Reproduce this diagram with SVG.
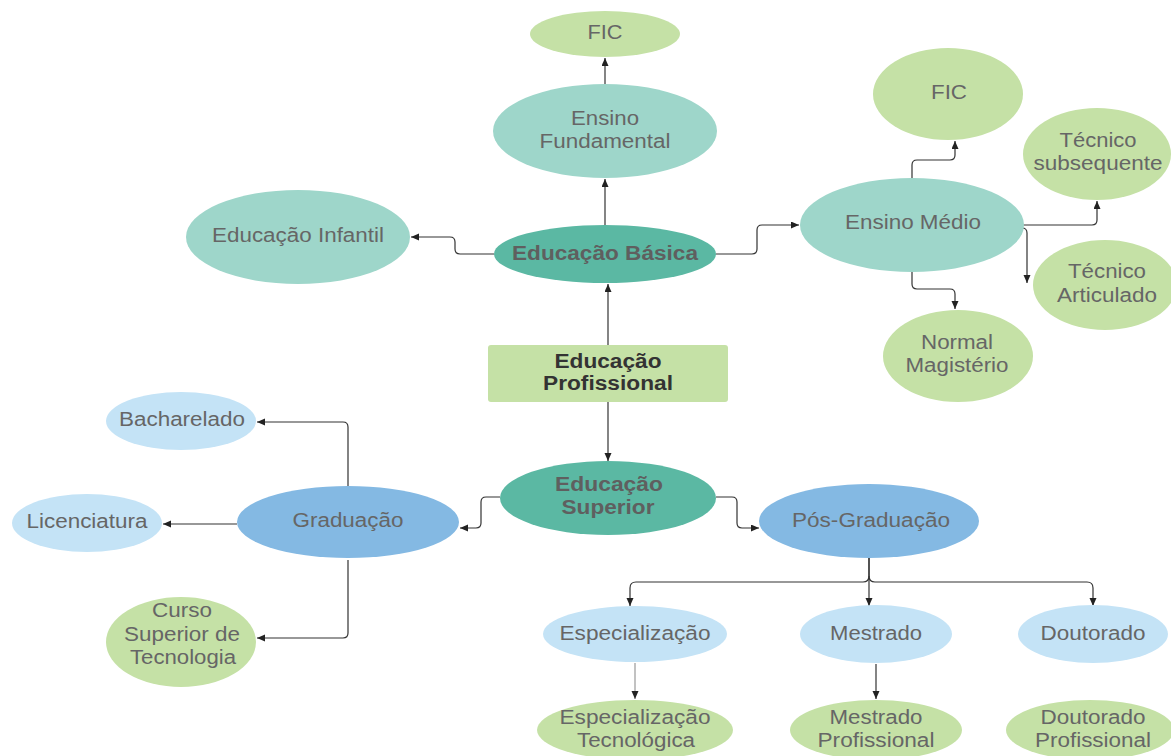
<svg xmlns="http://www.w3.org/2000/svg" width="1171" height="756" viewBox="0 0 1171 756">
<defs>
<marker id="arr" markerUnits="userSpaceOnUse" markerWidth="9" markerHeight="8" refX="8" refY="3.5" orient="auto"><path d="M0,0 L8,3.5 L0,7 z" fill="#222"/></marker>
<style>
.t{font-family:"Liberation Sans",Arial,sans-serif;font-size:20px;fill:#666;text-anchor:middle}
.b{font-weight:bold;fill:#5f5f5f}
.k{fill:#333}
.g{fill:#c5e1a6}
.tl{fill:#9ed6ca}
.td{fill:#5bb8a3}
.bl{fill:#84b9e3}
.lb{fill:#c4e3f6}
.c{fill:none;stroke:#333;stroke-width:1.2;marker-end:url(#arr)}
</style>
</defs>
<rect width="1171" height="756" fill="#fff"/>
<g id="connectors">
<path class="c" d="M605,85 V58"/>
<path class="c" d="M605,225 V179"/>
<path class="c" d="M608,345 V284"/>
<path class="c" d="M608,402 V461"/>
<path class="c" d="M494,254 H460 Q455,254 455,249 V242 Q455,237 450,237 H411"/>
<path class="c" d="M716,254 H752 Q757,254 757,249 V230 Q757,225 762,225 H799"/>
<path class="c" d="M912,178 V165 Q912,160 917,160 H950 Q955,160 955,155 V141"/>
<path class="c" d="M1023,225 H1092 Q1097,225 1097,220 V201"/>
<path class="c" d="M1022,228 Q1027,228 1027,233 V283"/>
<path class="c" d="M912,272 V284 Q912,289 917,289 H950 Q955,289 955,294 V309"/>
<path class="c" d="M500,497 H486 Q481,497 481,502 V523 Q481,528 476,528 H460"/>
<path class="c" d="M716,497 H732 Q737,497 737,502 V523 Q737,528 742,528 H759"/>
<path class="c" d="M348,488 V427 Q348,422 343,422 H257"/>
<path class="c" d="M237,524 H163"/>
<path class="c" d="M348,560 V633 Q348,638 343,638 H257"/>
<path class="c" d="M869,558 V576 Q869,582 863,582 H636 Q630,582 630,588 V606"/>
<path class="c" d="M869,558 V606"/>
<path class="c" d="M869,576 Q869,582 875,582 H1087 Q1093,582 1093,588 V606"/>
<path class="c" d="M635,663 V699" style="stroke:#999"/>
<path class="c" d="M876,664 V699"/>
</g>
<g id="fic-top"><ellipse class="g" cx="605" cy="34" rx="75" ry="23"/><text class="t" x="605" y="39" textLength="35" lengthAdjust="spacingAndGlyphs">FIC</text></g>
<g id="ensino-fundamental"><ellipse class="tl" cx="605" cy="131" rx="112" ry="47"/><text class="t" x="605" y="125" textLength="68" lengthAdjust="spacingAndGlyphs">Ensino</text><text class="t" x="605" y="148" textLength="131" lengthAdjust="spacingAndGlyphs">Fundamental</text></g>
<g id="educacao-basica"><ellipse class="td" cx="605" cy="254" rx="111" ry="29"/><text class="t b" x="605" y="260" textLength="186" lengthAdjust="spacingAndGlyphs">Educação Básica</text></g>
<g id="educacao-infantil"><ellipse class="tl" cx="298" cy="237" rx="112" ry="47"/><text class="t" x="298" y="242" textLength="172" lengthAdjust="spacingAndGlyphs">Educação Infantil</text></g>
<g id="ensino-medio"><ellipse class="tl" cx="912" cy="225" rx="112" ry="47"/><text class="t" x="913" y="229" textLength="136" lengthAdjust="spacingAndGlyphs">Ensino Médio</text></g>
<g id="fic-right"><ellipse class="g" cx="948" cy="94" rx="75" ry="46"/><text class="t" x="949" y="99" textLength="36" lengthAdjust="spacingAndGlyphs">FIC</text></g>
<g id="tecnico-subsequente"><ellipse class="g" cx="1097" cy="154" rx="74" ry="46"/><text class="t" x="1098" y="147" textLength="77" lengthAdjust="spacingAndGlyphs">Técnico</text><text class="t" x="1098" y="170" textLength="129" lengthAdjust="spacingAndGlyphs">subsequente</text></g>
<g id="tecnico-articulado"><ellipse class="g" cx="1105" cy="285" rx="72" ry="45"/><text class="t" x="1107" y="278" textLength="78" lengthAdjust="spacingAndGlyphs">Técnico</text><text class="t" x="1107" y="302" textLength="100" lengthAdjust="spacingAndGlyphs">Articulado</text></g>
<g id="normal-magisterio"><ellipse class="g" cx="958" cy="356" rx="75" ry="46"/><text class="t" x="957" y="349" textLength="72" lengthAdjust="spacingAndGlyphs">Normal</text><text class="t" x="957" y="372" textLength="103" lengthAdjust="spacingAndGlyphs">Magistério</text></g>
<g id="educacao-profissional"><rect class="g" x="488" y="345" width="240" height="57" rx="3"/><text class="t b k" x="608" y="368" textLength="107" lengthAdjust="spacingAndGlyphs">Educação</text><text class="t b k" x="608" y="390" textLength="130" lengthAdjust="spacingAndGlyphs">Profissional</text></g>
<g id="educacao-superior"><ellipse class="td" cx="608" cy="498" rx="108" ry="37"/><text class="t b" x="609" y="491" textLength="108" lengthAdjust="spacingAndGlyphs">Educação</text><text class="t b" x="608" y="514" textLength="93" lengthAdjust="spacingAndGlyphs">Superior</text></g>
<g id="graduacao"><ellipse class="bl" cx="348" cy="522" rx="111" ry="36"/><text class="t" x="348" y="527" textLength="111" lengthAdjust="spacingAndGlyphs">Graduação</text></g>
<g id="bacharelado"><ellipse class="lb" cx="181" cy="421" rx="75" ry="29"/><text class="t" x="182" y="426" textLength="126" lengthAdjust="spacingAndGlyphs">Bacharelado</text></g>
<g id="licenciatura"><ellipse class="lb" cx="87" cy="523" rx="75" ry="29"/><text class="t" x="87" y="528" textLength="121" lengthAdjust="spacingAndGlyphs">Licenciatura</text></g>
<g id="curso-superior-tecnologia"><ellipse class="g" cx="181" cy="642" rx="75" ry="45"/><text class="t" x="182" y="617" textLength="60" lengthAdjust="spacingAndGlyphs">Curso</text><text class="t" x="182" y="641" textLength="116" lengthAdjust="spacingAndGlyphs">Superior de</text><text class="t" x="183" y="664" textLength="106" lengthAdjust="spacingAndGlyphs">Tecnologia</text></g>
<g id="pos-graduacao"><ellipse class="bl" cx="869" cy="521" rx="110" ry="37"/><text class="t" x="871" y="527" textLength="158" lengthAdjust="spacingAndGlyphs">Pós-Graduação</text></g>
<g id="especializacao"><ellipse class="lb" cx="635" cy="634" rx="92" ry="28"/><text class="t" x="635" y="640" textLength="151" lengthAdjust="spacingAndGlyphs">Especialização</text></g>
<g id="mestrado"><ellipse class="lb" cx="876" cy="634" rx="76" ry="29"/><text class="t" x="876" y="640" textLength="92" lengthAdjust="spacingAndGlyphs">Mestrado</text></g>
<g id="doutorado"><ellipse class="lb" cx="1093" cy="634" rx="75" ry="29"/><text class="t" x="1093" y="640" textLength="105" lengthAdjust="spacingAndGlyphs">Doutorado</text></g>
<g id="especializacao-tecnologica"><ellipse class="g" cx="635" cy="730" rx="98" ry="30"/><text class="t" x="635" y="724" textLength="151" lengthAdjust="spacingAndGlyphs">Especialização</text><text class="t" x="636" y="747" textLength="118" lengthAdjust="spacingAndGlyphs">Tecnológica</text></g>
<g id="mestrado-profissional"><ellipse class="g" cx="876" cy="730" rx="86" ry="30"/><text class="t" x="876" y="724" textLength="93" lengthAdjust="spacingAndGlyphs">Mestrado</text><text class="t" x="876" y="747" textLength="117" lengthAdjust="spacingAndGlyphs">Profissional</text></g>
<g id="doutorado-profissional"><ellipse class="g" cx="1090" cy="730" rx="84" ry="30"/><text class="t" x="1093" y="724" textLength="105" lengthAdjust="spacingAndGlyphs">Doutorado</text><text class="t" x="1093" y="747" textLength="116" lengthAdjust="spacingAndGlyphs">Profissional</text></g>
</svg>
